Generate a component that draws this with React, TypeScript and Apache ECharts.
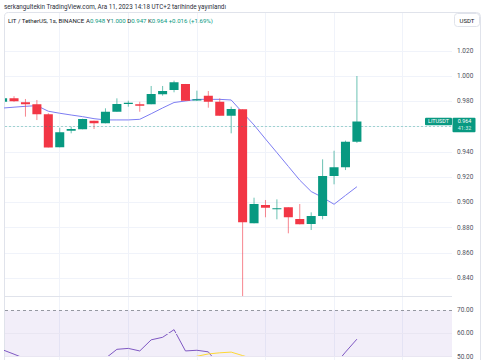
import React, { useEffect, useRef } from 'react';
import * as echarts from 'echarts';

// ---- data ----
const opens = [0.9796, 0.9823, 0.9792, 0.9776, 0.9697, 0.9435, 0.9567, 0.9578, 0.9646, 0.9625, 0.9717, 0.9778, 0.9776, 0.9776, 0.9855, 0.9889, 0.9937, 0.9806, 0.9844, 0.9796, 0.9686, 0.9736, 0.8833, 0.8978, 0.8946, 0.8960, 0.8867, 0.8828, 0.8891, 0.9208, 0.9277, 0.9480];
const closes = [0.9823, 0.9800, 0.9776, 0.9697, 0.9434, 0.9554, 0.9580, 0.9659, 0.9625, 0.9717, 0.9778, 0.9789, 0.9765, 0.9857, 0.9881, 0.9950, 0.9804, 0.9815, 0.9796, 0.9686, 0.9739, 0.8841, 0.8986, 0.8957, 0.8952, 0.8881, 0.8825, 0.8891, 0.9208, 0.9277, 0.9480, 0.9640];
const lows = [0.9796, 0.9796, 0.9678, 0.9651, 0.9434, 0.9435, 0.9546, 0.9578, 0.9580, 0.9625, 0.9717, 0.9757, 0.9717, 0.9776, 0.9844, 0.9871, 0.9804, 0.9802, 0.9749, 0.9686, 0.9546, 0.8257, 0.8833, 0.8881, 0.8865, 0.8754, 0.8825, 0.8780, 0.8865, 0.9142, 0.9255, 0.9470];
const highs = [0.9823, 0.9840, 0.9818, 0.9810, 0.9705, 0.9590, 0.9598, 0.9662, 0.9646, 0.9744, 0.9823, 0.9804, 0.9796, 0.9921, 0.9921, 0.9963, 0.9937, 0.9884, 0.9881, 0.9823, 0.9757, 0.9736, 0.9036, 0.9018, 0.9023, 0.8960, 0.8986, 0.8920, 0.9340, 0.9408, 0.9488, 1.0000];
const maValues = [0.9746, 0.9753, 0.9760, 0.9765, 0.9721, 0.9705, 0.9691, 0.9678, 0.9662, 0.9652, 0.9652, 0.9652, 0.9657, 0.9701, 0.9747, 0.9790, 0.9802, 0.9815, 0.9815, 0.9815, 0.9810, 0.9710, 0.9612, 0.9501, 0.9393, 0.9284, 0.9175, 0.9085, 0.9038, 0.8984, 0.9054, 0.9123];
const rsiValues = [52.9, 51.0, 49.0, 46.5, 38.0, 41.5, 42.5, 45.5, 44.5, 49.2, 53.1, 53.5, 52.4, 57.2, 58.3, 61.6, 52.4, 52.7, 52.0, 45.8, 47.5, 30.5, 36.0, 35.5, 35.5, 33.0, 32.0, 34.0, 43.0, 46.0, 51.9, 57.5];
const rsiMaValues = [48.5, 48.3, 48.0, 47.8, 47.2, 46.9, 46.8, 46.9, 47.0, 47.1, 47.4, 47.6, 47.7, 48.2, 48.6, 49.1, 49.0, 50.1, 51.1, 51.6, 51.9, 50.4, 48.9, 47.9, 46.8, 45.6, 44.5, 43.6, 43.2, 43.1, 43.3, 43.8];

const priceTickMin = 0.84;
const priceTickMax = 1.02;
const priceTickStep = 0.02;
const rsiGridLines = [50, 60];
const rsiLabelValues = [50, 60, 70];
const rsiUpperBand = 70;
const rsiLowerBand = 30;
const timeGridEvery = 6; // vertical grid line every 6 candles, first at candle 5

const headerLine1 = 'serkangultekin TradingView.com, Ara 11, 2023 14:18 UTC+2 tarihinde yayınlandı';
const symbolTitle = 'LIT / TetherUS, 1s, BINANCE';
const ohlcLetters = ['A', 'Y', 'D', 'K'];
const ohlcTexts = ['0.948', '1.000', '0.947', '0.964'];
const changeText = '+0.016 (+1.69%)';
const tickerLabel = 'LITUSDT';
const countdown = '41:32';
const currencyLabel = 'USDT';

const UP = '#089981';
const DOWN = '#F23645';
const GRID = '#f0f3fa';
const FONT = 'Roboto, "Noto Sans", sans-serif';

export default function App() {
  const ref = useRef<HTMLDivElement>(null);
  useEffect(() => {
    if (!ref.current) return;
    const chart = echarts.init(ref.current, undefined, { renderer: 'svg' });

    const n = closes.length;
    const lastClose = closes[n - 1];
    const candleData = closes.map((c, i) => [i, opens[i], c, lows[i], highs[i]]);
    const plotLeft = 5;
    const plotWidth = 447;
    const xMin = 0.21;
    const xMax = 39.32;
    const unit = plotWidth / (xMax - xMin);
    const firstTimeLine = 5;
    const lastTimeLine = 35;
    // rsi pane: 297..360, 70 at y=311, 2.45 px per point
    const rsiTop = 297;
    const rsiHeight = 63;
    const rsiMin = 50;
    const rsiMax = 70 + (311 - rsiTop) / 2.45;

    const hiddenAxis = { show: false, splitLine: { show: false } };

    const option: any = {
      animation: false,
      textStyle: { fontFamily: FONT },
      grid: [
        { left: plotLeft + (firstTimeLine - xMin) * unit, width: (lastTimeLine - firstTimeLine) * unit, top: 13, height: 347 },
        { left: plotLeft, width: plotWidth, top: 50.75, height: 227.25 },
        { left: plotLeft, width: plotWidth, top: 0.25, height: 303 },
        { left: plotLeft, width: plotWidth, top: rsiTop, height: rsiHeight },
      ],
      xAxis: [
        { type: 'value', gridIndex: 0, min: 0, max: lastTimeLine - firstTimeLine, interval: timeGridEvery,
          axisLine: { show: false }, axisTick: { show: false }, axisLabel: { show: false },
          splitLine: { show: true, lineStyle: { color: GRID, width: 1 } } },
        { type: 'value', gridIndex: 1, min: 0, max: 1, ...hiddenAxis },
        { type: 'value', gridIndex: 2, min: xMin, max: xMax, ...hiddenAxis },
        { type: 'value', gridIndex: 3, min: xMin, max: xMax, ...hiddenAxis },
      ],
      yAxis: [
        { type: 'value', gridIndex: 0, min: 0, max: 1, ...hiddenAxis },
        { type: 'value', gridIndex: 1, position: 'right', min: priceTickMin, max: priceTickMax, interval: priceTickStep,
          axisLine: { show: false }, axisTick: { show: false },
          axisLabel: { show: true, margin: 5, fontSize: 6.5, color: '#50535e', fontFamily: FONT,
            showMinLabel: true, showMaxLabel: true,
            // the current-price tag covers the tick label next to it
            formatter: (v: number) => (Math.abs(v - lastClose) < 0.008 ? '' : v.toFixed(3)) },
          splitLine: { show: true, lineStyle: { color: GRID, width: 1 } } },
        { type: 'value', gridIndex: 2, min: 0.82, max: 1.06, ...hiddenAxis },
        { type: 'value', gridIndex: 3, position: 'right', min: rsiMin, max: rsiMax, interval: 10,
          axisLine: { show: false }, axisTick: { show: false }, splitLine: { show: false },
          axisLabel: { show: true, margin: 5, fontSize: 6.5, color: '#50535e', fontFamily: FONT,
            showMinLabel: true, showMaxLabel: true,
            formatter: (v: number) => (rsiLabelValues.some((r) => Math.abs(r - v) < 0.01) ? v.toFixed(2) : '') } },
      ],
      series: [
        {
          type: 'line', name: 'MA', xAxisIndex: 2, yAxisIndex: 2, z: 2,
          data: maValues.map((v, i) => [i, v]), symbol: 'none', silent: true,
          lineStyle: { color: '#7d7df2', width: 1 },
          markLine: {
            silent: true, symbol: ['none', 'none'], label: { show: false },
            lineStyle: { color: UP, type: [2, 2], width: 1, opacity: 0.35 },
            data: [{ yAxis: lastClose }],
          },
        },
        {
          type: 'custom', name: 'candles', xAxisIndex: 2, yAxisIndex: 2, z: 3, clip: true,
          data: candleData, encode: { x: 0, y: [1, 2, 3, 4] },
          renderItem: (params: any, api: any) => {
            const x = api.value(0);
            const o = api.value(1);
            const c = api.value(2);
            const l = api.value(3);
            const h = api.value(4);
            const pO = api.coord([x, o]);
            const pC = api.coord([x, c]);
            const pL = api.coord([x, l]);
            const pH = api.coord([x, h]);
            const w = api.size([1, 0])[0] * 0.79;
            const color = c >= o ? UP : DOWN;
            const top = Math.min(pO[1], pC[1]);
            const hh = Math.max(1, Math.abs(pO[1] - pC[1]));
            return {
              type: 'group',
              children: [
                { type: 'line', shape: { x1: pH[0], y1: pH[1], x2: pL[0], y2: pL[1] }, style: { stroke: color, lineWidth: 1, opacity: 0.6 } },
                { type: 'rect', shape: { x: pO[0] - w / 2, y: top, width: w, height: hh }, style: { fill: color } },
              ],
            };
          },
        },
        {
          type: 'line', name: 'RSI', xAxisIndex: 3, yAxisIndex: 3, z: 3,
          data: rsiValues.map((v, i) => [i, v]), symbol: 'none', silent: true,
          lineStyle: { color: '#7E57C2', width: 1 },
          markArea: {
            silent: true, itemStyle: { color: 'rgba(126,87,194,0.1)' },
            data: [[{ yAxis: rsiLowerBand }, { yAxis: rsiUpperBand }]],
          },
          markLine: {
            silent: true, symbol: ['none', 'none'], label: { show: false },
            data: [
              { yAxis: rsiUpperBand, lineStyle: { color: '#9598a1', type: [3, 3], width: 1 } },
              ...rsiGridLines.map((v) => ({ yAxis: v, lineStyle: { color: '#e9e6f2', type: 'solid', width: 1 } })),
            ],
          },
        },
        {
          type: 'line', name: 'RSI MA', xAxisIndex: 3, yAxisIndex: 3, z: 3,
          data: rsiMaValues.map((v, i) => [i, v]), symbol: 'none', silent: true,
          lineStyle: { color: '#FDD835', width: 1 },
        },
      ],
    };
    chart.setOption(option);

    const py = chart.convertToPixel({ gridIndex: 2 }, [0, lastClose])[1];
    const g = (txt: string, x: number, y: number, size: number, fill: string, align = 'left') => ({
      type: 'text', x, y, silent: true,
      style: { text: txt, fontSize: size, fill, align, verticalAlign: 'middle', fontFamily: FONT },
    });
    const rich = `{d|${symbolTitle}} ` + ohlcLetters.map((l, i) => `{d|${l}}{g|${ohlcTexts[i]}}`).join(' ') + ` {g|${changeText}}`;

    chart.setOption({
      graphic: [
        { type: 'rect', silent: true, shape: { x: 4.5, y: 12.5, width: 476, height: 360, r: 4 }, style: { fill: 'none', stroke: '#e0e3eb', lineWidth: 1 } },
        { type: 'line', silent: true, shape: { x1: 4.5, y1: 296.5, x2: 452, y2: 296.5 }, style: { stroke: '#e0e3eb', lineWidth: 1 } },
        g(headerLine1, 4, 6.5, 6.3, '#2a2e39'),
        {
          type: 'text', x: 8, y: 20.5, silent: true,
          style: {
            text: rich, fontSize: 6.1, fontFamily: FONT, verticalAlign: 'middle', align: 'left',
            rich: { d: { fill: '#131722', fontSize: 6.1, fontFamily: FONT }, g: { fill: UP, fontSize: 6.1, fontFamily: FONT } },
          },
        },
        { type: 'rect', silent: true, shape: { x: 454.5, y: 13.5, width: 25, height: 13, r: 3 }, style: { fill: '#fff', stroke: '#e0e3eb', lineWidth: 1 } },
        g(currencyLabel, 467, 20.2, 6, '#131722', 'center'),
        { type: 'rect', silent: true, shape: { x: 425, y: py - 3.7, width: 27, height: 7.4, r: 1 }, style: { fill: UP } },
        g(tickerLabel, 438.5, py, 5.4, '#ffffff', 'center'),
        { type: 'rect', silent: true, shape: { x: 452.5, y: py - 3.7, width: 23, height: 14.4, r: 1 }, style: { fill: UP } },
        g(ohlcTexts[3], 464.5, py - 0.2, 5.4, '#ffffff', 'center'),
        g(countdown, 464.5, py + 6.8, 5.4, '#d8f0ea', 'center'),
      ],
    });

    return () => chart.dispose();
  }, []);
  return <div ref={ref} style={{ position: 'absolute', left: 0, top: 0, width: 485, height: 360, background: '#fff' }} />;
}
